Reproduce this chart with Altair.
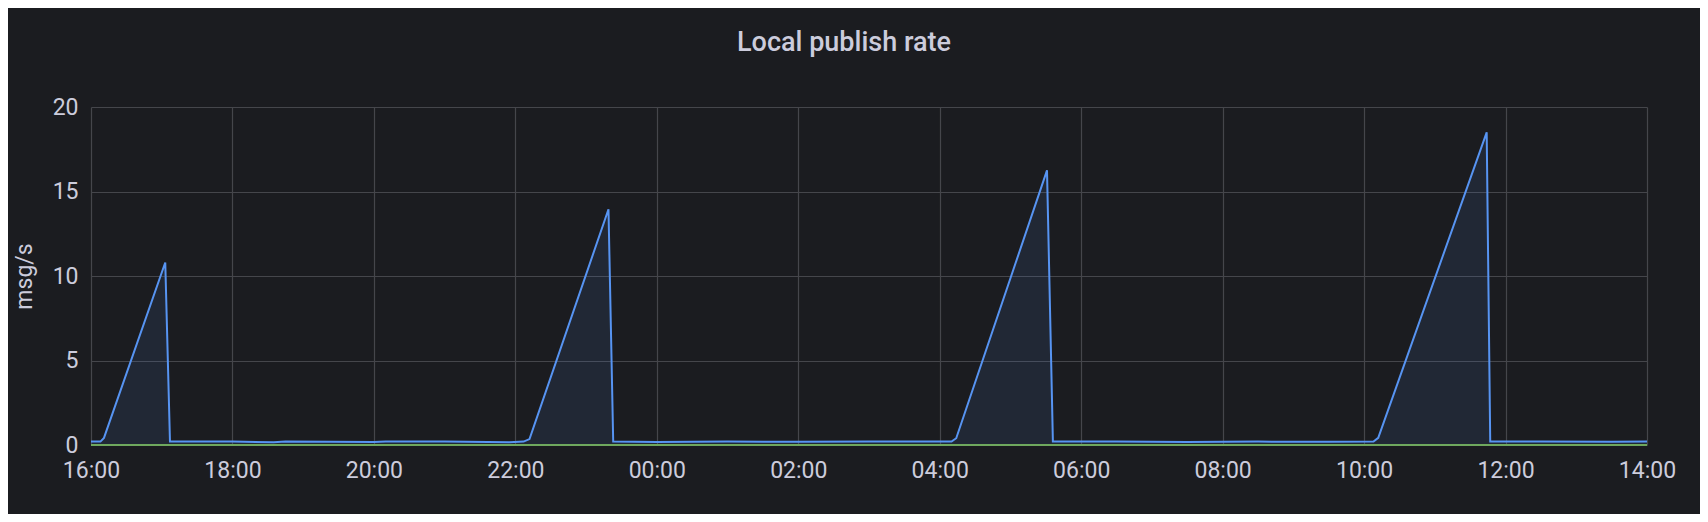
import altair as alt
import pandas as pd

# Blue series (msg/s)
BLUE_TIMES = [
    "2024-01-01T16:00:00Z", "2024-01-01T16:08:00Z", "2024-01-01T16:11:00Z",
    "2024-01-01T17:03:00Z", "2024-01-01T17:07:00Z",
    "2024-01-01T18:00:00Z", "2024-01-01T18:35:00Z", "2024-01-01T18:45:00Z",
    "2024-01-01T20:00:00Z", "2024-01-01T20:10:00Z", "2024-01-01T21:00:00Z",
    "2024-01-01T21:55:00Z", "2024-01-01T22:07:00Z", "2024-01-01T22:12:00Z",
    "2024-01-01T23:19:00Z", "2024-01-01T23:23:00Z",
    "2024-01-02T00:00:00Z", "2024-01-02T01:00:00Z", "2024-01-02T02:00:00Z",
    "2024-01-02T03:00:00Z", "2024-01-02T04:10:00Z", "2024-01-02T04:14:00Z",
    "2024-01-02T05:31:00Z", "2024-01-02T05:36:00Z",
    "2024-01-02T06:30:00Z", "2024-01-02T07:30:00Z", "2024-01-02T08:30:00Z",
    "2024-01-02T09:30:00Z", "2024-01-02T10:08:00Z", "2024-01-02T10:12:00Z",
    "2024-01-02T11:44:00Z", "2024-01-02T11:47:00Z",
    "2024-01-02T12:30:00Z", "2024-01-02T13:30:00Z", "2024-01-02T14:00:00Z",
]
BLUE_VALUES = [
    0.2, 0.2, 0.42,
    10.8, 0.2,
    0.2, 0.17, 0.2,
    0.18, 0.2, 0.2,
    0.17, 0.2, 0.35,
    13.95, 0.2,
    0.18, 0.2, 0.19,
    0.2, 0.2, 0.4,
    16.25, 0.2,
    0.2, 0.18, 0.2,
    0.19, 0.2, 0.42,
    18.5, 0.2,
    0.2, 0.19, 0.2,
]

# Green series (flat at zero)
GREEN_TIMES = ["2024-01-01T16:00:00Z", "2024-01-02T14:00:00Z"]
GREEN_VALUES = [0, 0]

X_TICKS = [
    "2024-01-01T16:00:00Z", "2024-01-01T18:00:00Z", "2024-01-01T20:00:00Z",
    "2024-01-01T22:00:00Z", "2024-01-02T00:00:00Z", "2024-01-02T02:00:00Z",
    "2024-01-02T04:00:00Z", "2024-01-02T06:00:00Z", "2024-01-02T08:00:00Z",
    "2024-01-02T10:00:00Z", "2024-01-02T12:00:00Z", "2024-01-02T14:00:00Z",
]
Y_TICKS = [0, 5, 10, 15, 20]

TITLE = "Local publish rate"
Y_TITLE = "msg/s"

BG = "#1b1c20"
TEXT = "#ccccdc"
GRID = "#45464b"
BLUE = "#5794f2"
GREEN = "#6fa85e"


def ms(s):
    return int(pd.Timestamp(s).value // 10**6)


blue_df = pd.DataFrame({"t": BLUE_TIMES, "v": BLUE_VALUES})
green_df = pd.DataFrame({"t": GREEN_TIMES, "v": GREEN_VALUES})

x_ticks_ms = [ms(s) for s in X_TICKS]

x_enc = alt.X(
    "t:T",
    scale=alt.Scale(type="utc", domain=[x_ticks_ms[0], x_ticks_ms[-1]]),
    axis=alt.Axis(
        values=x_ticks_ms,
        labelExpr="utcFormat(datum.value, '%H:%M')",
        title=None,
        labelFlush=False,
        labelOverlap=False,
        labelPadding=14,
    ),
)
y_enc = alt.Y(
    "v:Q",
    scale=alt.Scale(domain=[0, 20], nice=False, zero=True),
    axis=alt.Axis(
        values=Y_TICKS,
        title=Y_TITLE,
        titlePadding=16,
        labelPadding=13,
    ),
)

area = alt.Chart(blue_df).mark_area(color=BLUE, fillOpacity=0.1).encode(x=x_enc, y=y_enc)
line = alt.Chart(blue_df).mark_line(color=BLUE, strokeWidth=2).encode(x=x_enc, y=y_enc)
green = alt.Chart(green_df).mark_line(color=GREEN, strokeWidth=2.2).encode(x=x_enc, y=y_enc)

chart = (
    alt.layer(area, line, green)
    .properties(
        width=1556,
        height=338,
        autosize=alt.AutoSizeParams(type="none"),
        padding={"left": 83, "top": 99, "right": 53, "bottom": 69},
        background=BG,
        title=alt.TitleParams(
            text=TITLE,
            fontSize=27,
            fontWeight=500,
            font="Roboto",
            color=TEXT,
            anchor="middle",
            dx=-25,
            offset=18,
            baseline="alphabetic",
        ),
    )
    .configure_view(strokeOpacity=0)
    .configure_axis(
        domain=False,
        ticks=False,
        grid=True,
        gridColor=GRID,
        gridWidth=1.2,
        labelColor=TEXT,
        labelFont="Roboto",
        labelFontSize=23,
        titleColor=TEXT,
        titleFont="Roboto",
        titleFontSize=23,
        titleFontWeight="normal",
    )
)

chart.save("out.html", embed_options={"renderer": "svg", "actions": False})
